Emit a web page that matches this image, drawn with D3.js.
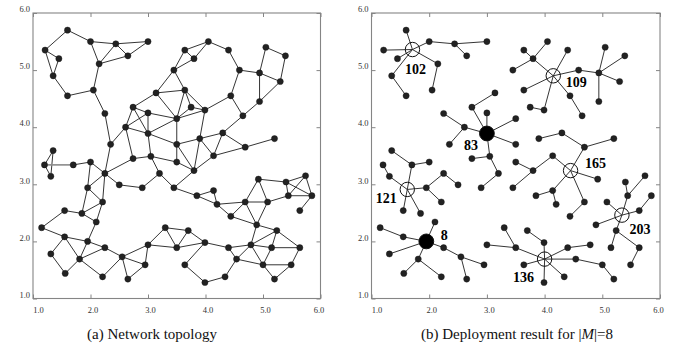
<!DOCTYPE html>
<html>
<head>
<meta charset="utf-8">
<script src="https://cdn.jsdelivr.net/npm/d3@7"></script>
<style>
  body { margin: 0; background: #fff; }
  svg { display: block; }
</style>
</head>
<body>
<svg id="chart" width="693" height="353"></svg>
<script>
// ---- network nodes (coordinates in field units) ----
const nodeNames = [
  "A1","A2","A3","A4","A5","A6","A7","A8","A9","A10","A11","A12","A13","A14","A15","A16","A17","A18","A19","A20","A21","A22",
  "B1","B2","B3","B4","B5","B6","B7","B8",
  "C1","C2","C3","C4","C5","C6","C7","C8","C9","C10","C11","C12",
  "D1","D2","D3","D4","D5","D6","D7","D8","D9","D10","D11","D12","D13","D14","D15",
  "E1","E2","E3","E4","E5","E6","E7","E8","E9","E10","E11","E12","E13","E14","E15",
  "F1","F2","F3","F4","F5","F6","F7","F8","F9","F10","F11",
  "G1","G2","G3","G4","G5","G6","G7","G8","G9","G10","G11","G12","G13","G14","G15","G16","G17","G18"
];
const nodeX = [
  1.60,1.21,1.45,1.35,1.60,2.00,2.44,3.00,2.65,2.15,2.05,2.25,2.35,2.61,2.74,3.00,3.00,3.14,3.45,3.50,3.50,1.35,
  3.64,3.75,3.99,4.59,4.94,4.44,4.94,4.65,
  3.64,3.80,4.05,4.40,5.05,5.39,5.30,3.90,4.30,4.14,4.69,5.20,
  1.20,1.31,1.70,2.00,2.25,2.74,3.05,3.50,3.80,3.20,2.50,2.90,3.45,1.95,4.92,
  3.85,4.14,4.20,4.69,5.08,4.44,4.89,2.21,1.85,1.55,2.10,1.15,1.55,3.30,3.70,
  1.95,2.25,1.31,1.81,1.56,2.21,2.55,2.65,2.95,3.00,3.50,
  5.40,5.74,5.44,5.85,5.64,5.24,3.99,4.40,4.79,5.15,5.64,4.54,5.00,5.49,3.64,4.34,3.99,5.20
];
const nodeY = [
  5.70,5.35,5.20,4.90,4.55,5.50,5.46,5.50,5.25,5.11,4.65,4.24,3.70,4.00,4.35,4.25,3.89,4.60,5.00,4.15,3.70,3.59,
  4.65,4.35,4.30,5.00,4.95,4.55,4.45,4.20,
  5.35,5.20,5.50,5.35,5.40,5.25,4.80,3.80,3.90,3.50,3.65,3.80,
  3.34,3.14,3.34,3.39,3.19,3.45,3.49,3.39,3.24,3.19,2.99,2.94,2.94,2.94,3.09,
  2.80,2.89,2.65,2.69,2.69,2.44,2.29,2.69,2.49,2.54,2.34,2.24,2.08,2.24,2.19,
  2.00,1.89,1.78,1.69,1.44,1.38,1.73,1.34,1.59,1.94,1.89,
  3.04,3.15,2.80,2.80,2.54,2.19,1.98,1.89,1.94,1.89,1.89,1.69,1.59,1.59,1.59,1.38,1.28,1.34
];

// ---- radio links of the network topology ----
const topologyLinks = [
  ["A1","A2"],["A1","A6"],["A6","A7"],["A7","A8"],["A7","A9"],["A8","A9"],["A7","A10"],["A9","A10"],["A6","A10"],
  ["A10","A11"],["A2","A3"],["A3","A4"],["A2","A4"],["A4","A5"],["A5","A11"],["A11","A12"],["A12","A13"],
  ["A13","A14"],["A14","A15"],["A14","A16"],["A14","A17"],["A15","A16"],["A15","A17"],["A16","A17"],["A16","A20"],
  ["A17","A20"],["A17","A21"],["A20","A21"],["A15","A18"],["A18","A19"],["A18","A20"],["A18","B1"],["A19","B1"],
  ["A19","C1"],["A19","C2"],
  ["B1","B2"],["B1","B3"],["B1","A20"],["B2","B3"],["B2","A20"],["B3","A20"],["B3","B6"],["B4","B6"],["B4","B5"],
  ["B4","C4"],["B5","B7"],["B5","C5"],["B5","C7"],["B6","B8"],["B7","B8"],["B7","C7"],["C5","C6"],["C6","C7"],
  ["C1","C2"],["C1","C3"],["C2","C3"],["C3","C4"],["B3","C8"],["B8","C9"],["C8","C9"],["C8","A21"],["C9","C10"],
  ["C8","C10"],["C9","C11"],["C11","C12"],["C10","C11"],["C8","D9"],["A21","D9"],
  ["A22","D1"],["A22","D2"],["D1","D2"],["D1","D3"],["D3","D4"],["D4","D5"],["D4","D14"],["D5","D14"],["D5","A13"],
  ["D5","D6"],["D5","D11"],["D5","E8"],["A14","D6"],["D6","D7"],["D7","A17"],["D7","D8"],["D7","D10"],["D8","A21"],
  ["D8","D9"],["D9","C10"],["D10","D12"],["D10","D13"],["D11","D12"],["D9","D13"],["D13","E1"],["D14","E8"],["D14","E9"],
  ["E1","E2"],["E1","E3"],["E2","E3"],["E3","E4"],["E3","E6"],["E4","E6"],["E4","E5"],["E4","E7"],["E5","E7"],
  ["E4","D15"],["E5","D15"],["E6","E7"],["D15","G1"],["E8","E9"],["E8","E11"],["E9","E11"],["E9","E10"],["E10","E12"],
  ["E12","E13"],["E13","F1"],["E11","F1"],["E13","F3"],["E13","F4"],["F1","F2"],["F1","F4"],["F3","F5"],["F4","F5"],
  ["F2","F4"],["F4","F6"],["F6","F7"],["F2","F7"],["F7","F8"],["F7","F9"],["F8","F9"],["F7","F10"],["F9","F10"],
  ["F10","E14"],["F10","F11"],["E14","F11"],["E14","E15"],["E15","F11"],["E15","G7"],["F11","G7"],
  ["G1","G2"],["G1","G3"],["G1","G4"],["G2","G3"],["G2","G4"],["G3","G4"],["E5","G3"],["G4","G5"],["E7","G6"],
  ["E7","G9"],["G6","G9"],["G6","G10"],["G6","G11"],["G9","G10"],["G10","G11"],["G7","G8"],["G8","G9"],["G7","G15"],
  ["G15","G17"],["G17","G16"],["G16","G12"],["G8","G12"],["G9","G12"],["G12","G13"],["G9","G13"],["G10","G13"],
  ["G13","G14"],["G11","G14"],["G13","G18"],["G14","G18"]
];

// ---- deployed sinks (|M| = 8) ----
const sinkLabels = ["102","109","83","165","121","203","8","136"];
const sinkX = [1.71, 4.15, 3.00, 4.45, 1.62, 5.34, 1.95, 4.00];
const sinkY = [5.36, 4.90, 3.89, 3.24, 2.91, 2.46, 2.00, 1.69];
const sinkOnNode = [false, false, true, false, false, false, true, false];

// ---- routing trees towards each sink ("S" + label = sink) ----
const deploymentLinks = [
  ["S102","A2"],["S102","A1"],["S102","A6"],["S102","A10"],["S102","A3"],["S102","A4"],["A4","A5"],["A6","A7"],
  ["A7","A8"],["A7","A9"],["A10","A11"],
  ["S83","A15"],["S83","A16"],["S83","A14"],["S83","A20"],["S83","A21"],["S83","D7"],["A15","A18"],["A14","A12"],
  ["A14","A13"],["D7","D6"],["D7","D10"],["D10","D12"],
  ["S109","C2"],["C2","C1"],["C2","C3"],["C2","A19"],["S109","C4"],["S109","B1"],["S109","B3"],["B3","B2"],
  ["S109","B6"],["B6","B8"],["S109","B4"],["B4","B5"],["B5","C5"],["B5","C6"],["B5","C7"],["B5","B7"],
  ["S165","C11"],["C11","C9"],["C9","C8"],["C11","C12"],["S165","C10"],["C10","D9"],["D9","D8"],["D9","D13"],
  ["S165","D15"],["S165","E2"],["E2","E1"],["E2","E3"],["S165","E4"],["E4","E6"],
  ["S203","E5"],["S203","G3"],["S203","G5"],["S203","E7"],["S203","G6"],["G3","G1"],["G3","G2"],["G5","G4"],
  ["G6","G10"],["G6","G11"],["G11","G14"],
  ["S136","F11"],["S136","G7"],["G7","E15"],["S136","G8"],["G8","G9"],["S136","G12"],["G12","G13"],["G13","G18"],
  ["S136","G15"],["S136","G17"],["S136","G16"],["F11","E14"],["F11","F10"],
  ["S121","D3"],["D3","D4"],["D3","A22"],["S121","D2"],["D2","D1"],["S121","D14"],["D14","D5"],["D5","D11"],
  ["S121","E10"],["S121","E9"],["D14","E8"],
  ["S8","E13"],["E13","E12"],["S8","E11"],["S8","F2"],["F2","F7"],["F7","F9"],["F7","F8"],["S8","F4"],["F4","F5"],
  ["F4","F6"],["S8","F3"]
];

const tickValues = [1, 2, 3, 4, 5, 6];
const tickLabels = ["1.0", "2.0", "3.0", "4.0", "5.0", "6.0"];
const captionA = "(a) Network topology";

// ---- layout ----
const panels = [
  { left: 33, right: 320.5, caption: 152 },
  { left: 371.5, right: 660, caption: 517 }
];
const plotTop = 13, plotBottom = 298.5;
const INK = "#1e1e1e", AXIS = "#858585";
const SERIF = "'Liberation Serif', 'Times New Roman', serif";

// label placement around each sink marker (px)
const sinkLabelDx = [3, 23, -16, 25, -21, 18, 18, -21];
const sinkLabelDy = [20, 7, 12, -7, 9, 14, -6, 18];

const svg = d3.select("#chart");
const nodes = new Map(nodeNames.map((n, i) => [n, { x: nodeX[i], y: nodeY[i] }]));
sinkLabels.forEach((s, i) => nodes.set("S" + s, { x: sinkX[i], y: sinkY[i] }));

function drawFrame(g, x, y) {
  const fmt = d => tickLabels[tickValues.indexOf(d)];
  const styleAxis = sel => {
    sel.select(".domain").remove();
    sel.selectAll(".tick line").attr("stroke", AXIS);
    sel.selectAll(".tick text").attr("fill", "#333").attr("font-family", SERIF).attr("font-size", 8.5);
  };
  g.append("g").attr("transform", `translate(0,${plotBottom})`)
    .call(d3.axisBottom(x).tickValues(tickValues).tickFormat(fmt).tickSizeInner(-4).tickSizeOuter(0).tickPadding(8))
    .call(styleAxis)
    .call(a => a.selectAll(".tick text").attr("dx", d => d === 1 ? 5 : (d === 6 ? -2 : 2)));
  g.append("g").attr("transform", `translate(${x.range()[0]},0)`)
    .call(d3.axisLeft(y).tickValues(tickValues).tickFormat(fmt).tickSizeInner(-4).tickSizeOuter(0).tickPadding(3))
    .call(styleAxis)
    .call(a => a.selectAll(".tick text").attr("dy", "-0.15em"));
  g.append("g").attr("transform", `translate(0,${plotTop})`)
    .call(d3.axisTop(x).tickValues(tickValues).tickFormat("").tickSizeInner(-4).tickSizeOuter(0))
    .call(styleAxis);
  g.append("g").attr("transform", `translate(${x.range()[1]},0)`)
    .call(d3.axisRight(y).tickValues(tickValues).tickFormat("").tickSizeInner(-4).tickSizeOuter(0))
    .call(styleAxis);
  g.append("rect")
    .attr("x", x.range()[0]).attr("y", plotTop)
    .attr("width", x.range()[1] - x.range()[0]).attr("height", plotBottom - plotTop)
    .attr("fill", "none").attr("stroke", AXIS).attr("stroke-width", 1.1);
}

function drawLinks(g, links, x, y) {
  g.append("g").selectAll("line").data(links).join("line")
    .attr("x1", d => x(nodes.get(d[0]).x)).attr("y1", d => y(nodes.get(d[0]).y))
    .attr("x2", d => x(nodes.get(d[1]).x)).attr("y2", d => y(nodes.get(d[1]).y))
    .attr("stroke", d => (d[0] === "D1" && d[1] === "D3") ? "#8a8a8a" : INK)
    .attr("stroke-width", d => (d[0] === "D1" && d[1] === "D3") ? 1.6 : 0.9);
}

function drawNodes(g, x, y) {
  g.append("g").selectAll("circle").data(nodeNames).join("circle")
    .attr("cx", n => x(nodes.get(n).x)).attr("cy", n => y(nodes.get(n).y))
    .attr("r", 3.1).attr("fill", "#222").attr("stroke", "#111").attr("stroke-width", 0.4);
}

panels.forEach((p, i) => {
  const x = d3.scaleLinear().domain([1, 6]).range([p.left, p.right]);
  const y = d3.scaleLinear().domain([1, 6]).range([plotBottom, plotTop]);
  const g = svg.append("g");
  drawFrame(g, x, y);

  if (i === 0) {
    drawLinks(g, topologyLinks, x, y);
    drawNodes(g, x, y);
    g.append("text").attr("x", p.caption).attr("y", 339).attr("text-anchor", "middle")
      .attr("font-family", SERIF).attr("font-size", 15).attr("fill", "#111").text(captionA);
  } else {
    drawLinks(g, deploymentLinks, x, y);
    drawNodes(g, x, y);
    const sinks = g.append("g").selectAll("g").data(sinkLabels).join("g");
    sinks.append("circle")
      .attr("cx", (s, k) => x(sinkX[k])).attr("cy", (s, k) => y(sinkY[k]))
      .attr("r", (s, k) => sinkOnNode[k] ? 7.4 : 7.2)
      .attr("fill", (s, k) => sinkOnNode[k] ? "#000" : "none")
      .attr("stroke", "#111").attr("stroke-width", 1);
    sinks.append("text")
      .attr("x", (s, k) => x(sinkX[k]) + sinkLabelDx[k])
      .attr("y", (s, k) => y(sinkY[k]) + sinkLabelDy[k])
      .attr("text-anchor", "middle").attr("dominant-baseline", "central")
      .attr("font-family", SERIF).attr("font-weight", "bold").attr("font-size", 14).attr("fill", "#000")
      .text(s => s);
    const cap = g.append("text").attr("x", p.caption).attr("y", 339).attr("text-anchor", "middle")
      .attr("font-family", SERIF).attr("font-size", 15).attr("fill", "#111");
    cap.append("tspan").text("(b) Deployment result for |");
    cap.append("tspan").attr("font-style", "italic").text("M");
    cap.append("tspan").text("|=8");
  }
});
</script>
</body>
</html>
